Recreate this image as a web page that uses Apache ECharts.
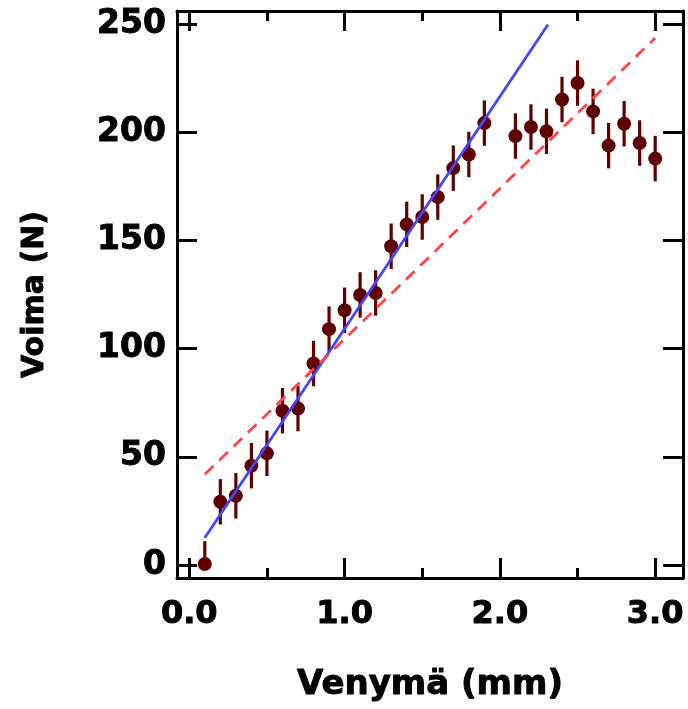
<!DOCTYPE html>
<html>
<head>
<meta charset="utf-8">
<script src="https://cdn.jsdelivr.net/npm/echarts@6/dist/echarts.min.js"></script>
<style>html,body{margin:0;padding:0;background:#fff;}#chart{width:688px;height:709px;}</style>
</head>
<body>
<div id="chart"></div>
<script>
// Data
const xVals = [0.1, 0.2, 0.3, 0.4, 0.5, 0.6, 0.7, 0.8, 0.9, 1.0, 1.1, 1.2, 1.3, 1.4, 1.5, 1.6, 1.7, 1.8, 1.9, 2.1, 2.2, 2.3, 2.4, 2.5, 2.6, 2.7, 2.8, 2.9, 3.0];
const forceVals = [0.5, 29.2, 32.0, 45.9, 51.6, 71.3, 72.3, 93.1, 109.0, 117.7, 124.8, 125.7, 147.3, 157.4, 160.8, 170.0, 183.4, 189.7, 204.2, 198.2, 202.4, 200.4, 215.1, 222.7, 209.6, 193.8, 203.9, 195.0, 187.8];
const errPlus = [10.5, 10.5, 10.5, 10.5, 10.5, 10.5, 10.5, 10.5, 10.5, 10.5, 10.5, 10.5, 10.5, 10.5, 10.5, 10.5, 10.5, 10.5, 10.5, 10.5, 10.5, 10.5, 10.5, 10.5, 10.5, 10.5, 10.5, 10.5, 10.5];
const errMinus = [0.5, 10.5, 10.5, 10.5, 10.5, 10.5, 10.5, 10.5, 10.5, 10.5, 10.5, 10.5, 10.5, 10.5, 10.5, 10.5, 10.5, 10.5, 10.5, 10.5, 10.5, 10.5, 10.5, 10.5, 10.5, 10.5, 10.5, 10.5, 10.5];
const blueFitX = [0.1, 2.31];
const blueFitY = [12.6, 249.8];
const redFitX = [0.1, 3.0];
const redFitY = [41.9, 243.5];
const xMajorTicks = [0, 1, 2, 3];
const xMinorTicks = [0.5, 1.5, 2.5];
const yTicks = [0, 50, 100, 150, 200, 250];
const xTitle = 'Venymä (mm)';
const yTitle = 'Voima (N)';

const MARK = '#5e0000';
const FONT = 'DejaVu Sans';
const X_MIN = -0.079, X_MAX = 3.179, Y_MIN = -6, Y_MAX = 256;

const lineStyleAxis = { color: '#000', width: 3 };
const heavy = { textBorderColor: '#000', textBorderWidth: 0.9 };
function xAxisDef(pos, ticks, len, labels, showLine) {
  return {
    type: 'value', position: pos, min: X_MIN, max: X_MAX,
    axisLine: { show: showLine, onZero: false, lineStyle: lineStyleAxis },
    axisTick: { show: true, inside: true, length: len, customValues: ticks, lineStyle: lineStyleAxis },
    axisLabel: labels ? Object.assign({
      show: true, customValues: ticks, formatter: v => v.toFixed(1),
      fontFamily: FONT, fontWeight: 'bold', fontSize: 32, color: '#000', margin: 21
    }, heavy) : { show: false },
    splitLine: { show: false }
  };
}
function yAxisDef(pos, labels) {
  return {
    type: 'value', position: pos, min: Y_MIN, max: Y_MAX,
    axisLine: { show: true, onZero: false, lineStyle: lineStyleAxis },
    axisTick: { show: true, inside: true, length: 20, customValues: yTicks, lineStyle: lineStyleAxis },
    axisLabel: labels ? Object.assign({
      show: true, customValues: yTicks, formatter: v => String(Math.round(v)),
      fontFamily: FONT, fontWeight: 'bold', fontSize: 33, color: '#000', margin: 11
    }, heavy) : { show: false },
    splitLine: { show: false }
  };
}

const xBottom = xAxisDef('bottom', xMajorTicks, 20, true, true);
xBottom.name = xTitle;
xBottom.nameLocation = 'middle';
xBottom.nameGap = 90;
xBottom.nameTextStyle = Object.assign({ fontFamily: FONT, fontWeight: 'bold', fontSize: 34, color: '#000' }, heavy);

const yLeft = yAxisDef('left', true);
yLeft.name = yTitle;
yLeft.nameLocation = 'middle';
yLeft.nameGap = 127;
yLeft.nameTextStyle = Object.assign({ fontFamily: FONT, fontWeight: 'bold', fontSize: 30, color: '#000' }, heavy);

const chart = echarts.init(document.getElementById('chart'), null, { renderer: 'canvas' });
chart.setOption({
  animation: false,
  backgroundColor: '#fff',
  grid: { left: 177, right: 5, top: 11, bottom: 131, containLabel: false },
  xAxis: [
    xBottom,
    xAxisDef('bottom', xMinorTicks, 10, false, false),
    xAxisDef('top', xMajorTicks, 20, false, true),
    xAxisDef('top', xMinorTicks, 10, false, false)
  ],
  yAxis: [yLeft, yAxisDef('right', false)],
  series: [
    {
      type: 'custom', xAxisIndex: 0, yAxisIndex: 0, z: 2, clip: true,
      data: xVals.map((x, i) => [x, forceVals[i] - errMinus[i], forceVals[i] + errPlus[i]]),
      encode: { x: 0, y: [1, 2] },
      renderItem: function (params, api) {
        const p1 = api.coord([api.value(0), api.value(1)]);
        const p2 = api.coord([api.value(0), api.value(2)]);
        return { type: 'line', shape: { x1: p1[0], y1: p1[1], x2: p2[0], y2: p2[1] },
                 style: { stroke: MARK, lineWidth: 3.2 } };
      }
    },
    {
      type: 'scatter', xAxisIndex: 0, yAxisIndex: 0, z: 3,
      symbol: 'circle', symbolSize: 14, itemStyle: { color: MARK, opacity: 1 },
      data: xVals.map((x, i) => [x, forceVals[i]])
    },
    {
      type: 'line', xAxisIndex: 0, yAxisIndex: 0, z: 4, symbol: 'none',
      lineStyle: { color: '#4545ff', width: 2.8 },
      data: blueFitX.map((x, i) => [x, blueFitY[i]])
    },
    {
      type: 'line', xAxisIndex: 0, yAxisIndex: 0, z: 4, symbol: 'none',
      lineStyle: { color: '#ff4545', width: 2.8, type: [12, 8] },
      data: redFitX.map((x, i) => [x, redFitY[i]])
    }
  ]
});
</script>
</body>
</html>
